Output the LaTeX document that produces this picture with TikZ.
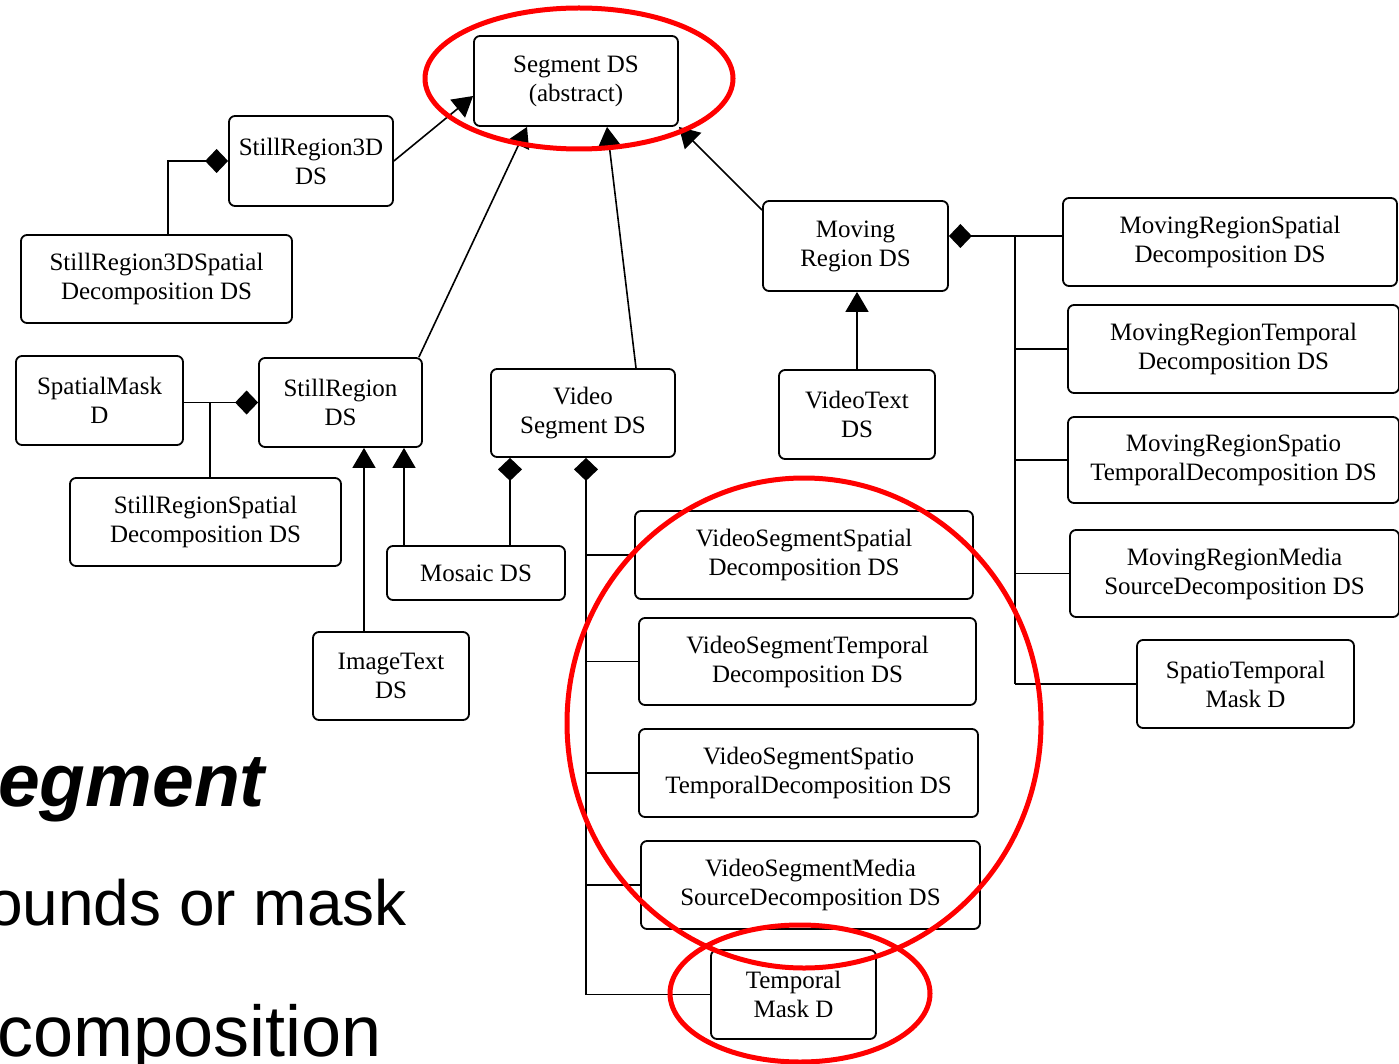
\documentclass[tikz,border=0pt]{standalone}
\usepackage{fontspec}
\setmainfont{Liberation Serif}
\newfontfamily\slidefont{Liberation Sans}
\usetikzlibrary{arrows.meta,calc}
\begin{document}
\begin{tikzpicture}[x=1pt,y=-1pt,
  box/.style 2 args={draw, line width=1.8pt, rounded corners=6pt, fill=white,
    align=center, inner sep=2pt, minimum width=#1pt, minimum height=#2pt,
    font=\fontsize{25}{29}\selectfont},
  gen/.style={line width=1.6pt, -{Triangle[length=20pt,width=23pt]}},
  comp/.style={line width=1.8pt, -{Diamond[length=23pt,width=24pt]}},
  wire/.style={line width=1.8pt},
  ring/.style={draw=red, line width=5pt},
  slide/.style={inner sep=0pt, anchor=base west}
]
\fill[white] (0,0) rectangle (1399,1064);
\useasboundingbox (0,0) rectangle (1399,1064);

% class boxes
\node[box={204}{90}] (seg) at (576,81) {Segment DS\\(abstract)};
\node[box={164}{90}] (sr3d) at (311,161) {StillRegion3D\\DS};
\node[box={271}{88}] (sr3dsp) at (156.5,279) {StillRegion3DSpatial\\Decomposition DS};
\node[box={167}{89}] (smask) at (99.5,400.5) {SpatialMask\\D};
\node[box={163}{89}] (sr) at (340.5,402.5) {StillRegion\\DS};
\node[box={271}{88}] (srsp) at (205.5,522) {StillRegionSpatial\\Decomposition DS};
\node[box={184}{88}] (vseg) at (583,413) {Video\\Segment DS};
\node[box={178}{54}] (mosaic) at (476,573) {Mosaic DS};
\node[box={156}{88}] (imgtext) at (391,676) {ImageText\\DS};
\node[box={185}{90}] (mreg) at (855.5,246) {Moving\\Region DS};
\node[box={156}{89}] (vtext) at (857,414.5) {VideoText\\DS};
\node[box={334}{88}] (mrsp) at (1230,242) {MovingRegionSpatial\\Decomposition DS};
\node[box={331}{88}] (mrt) at (1233.5,349) {MovingRegionTemporal\\Decomposition DS};
\node[box={331}{86}] (mrst) at (1233.5,460) {MovingRegionSpatio\\TemporalDecomposition DS};
\node[box={329}{87}] (mrm) at (1234.5,573.5) {MovingRegionMedia\\SourceDecomposition DS};
\node[box={217}{88}] (stmask) at (1245.5,684) {SpatioTemporal\\Mask D};
\node[box={338}{88}] (vssp) at (804,555) {VideoSegmentSpatial\\Decomposition DS};
\node[box={337}{87}] (vst) at (807.5,661.5) {VideoSegmentTemporal\\Decomposition DS};
\node[box={339}{88}] (vsst) at (808.5,773) {VideoSegmentSpatio\\TemporalDecomposition DS};
\node[box={339}{88}] (vsm) at (810.5,885) {VideoSegmentMedia\\SourceDecomposition DS};
\node[box={165}{89}] (tmask) at (793.5,994.5) {Temporal\\Mask D};

% guide lines for the orthogonal connectors
\coordinate (x3d) at (168,0);
\coordinate (xSm) at (210,0);
\coordinate (xImg) at (364,0);
\coordinate (xMos) at (404,0);
\coordinate (xVm) at (510,0);
\coordinate (xVs) at (586,0);
\coordinate (xMr) at (1015,0);
\coordinate (yMr) at (0,236);

% generalisation
\draw[gen] (sr3d.east) -- ($(seg.west)+(0,15)$);
\draw[gen] ($(sr.north east)+(-4,0)$) -- ($(seg.south)+(-49,0)$);
\draw[gen] ($(vseg.north)+(53,0)$) -- ($(seg.south)+(31,0)$);
\draw[gen] ($(mreg.north west)+(0,10)$) -- (seg.south east);
\draw[gen] (mosaic.north -| xMos) -- (sr.south -| xMos);
\draw[gen] (imgtext.north -| xImg) -- (sr.south -| xImg);
\draw[gen] (vtext.north) -- (vtext.north |- mreg.south);

% composition
\draw[comp] (sr3dsp.north -| x3d) |- (sr3d.west);
\draw[comp] (smask.east |- sr.west) -- (sr.west);
\draw[wire] (srsp.north -| xSm) -- (sr.west -| xSm);
\draw[comp] (mosaic.north -| xVm) -- (vseg.south -| xVm);
\draw[comp] (tmask.west -| xVs) -- (vseg.south -| xVs);
\foreach \n in {vssp,vst,vsst,vsm,tmask} \draw[wire] (\n.west -| xVs) -- (\n.west);
\draw[comp] (mrsp.west |- yMr) -- (mreg.east |- yMr);
\draw[wire] (xMr |- yMr) -- (xMr |- stmask.west);
\foreach \n in {mrt,mrst,mrm,stmask} \draw[wire] (\n.west -| xMr) -- (\n.west);

% slide text
\node[slide, font=\slidefont\bfseries\itshape\fontsize{75}{82}\selectfont] (t1) at (-2,806) {egment};
\node[slide, font=\slidefont\fontsize{64}{70}\selectfont] (t2) at (-13,925) {ounds or mask};
\node[slide, font=\slidefont\fontsize{72}{80}\selectfont] (t3) at (-3,1056) {composition};

% highlight rings
\draw[ring] (579,78.5) ellipse [x radius=154pt, y radius=70.5pt];
\draw[ring] (804,723) ellipse [x radius=237pt, y radius=245pt];
\draw[ring] (800,993.5) ellipse [x radius=130pt, y radius=68.5pt];
\end{tikzpicture}
\end{document}
